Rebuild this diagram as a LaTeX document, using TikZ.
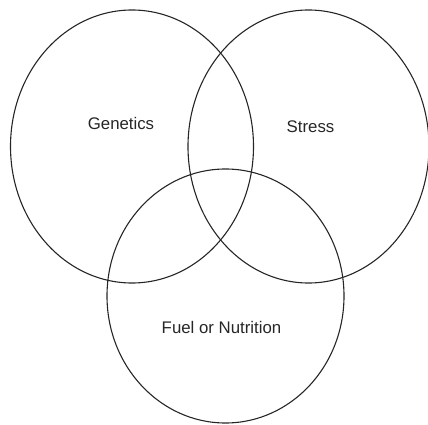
\documentclass[tikz,border=0pt]{standalone}
\usepackage{fontspec}
\setmainfont{Liberation Sans}
\begin{document}
\begin{tikzpicture}[x=1pt,y=-1pt,
  ring/.style={draw=black!85,line width=1.1pt},
  lbl/.style={anchor=base,inner sep=0pt,font=\fontsize{16.8}{19}\selectfont,text=black!85}]
\useasboundingbox (0,0) rectangle (428,425);
\draw[ring] (132,146.5) ellipse [x radius=121.5,y radius=136.5];
\draw[ring] (308.5,146.5) ellipse [x radius=120.5,y radius=136.5];
\draw[ring] (225.5,296) ellipse [x radius=118.5,y radius=127];
\node[lbl] (gen) at (121,129) {Genetics};
\node[lbl] (str) at (310.5,132.5) {Stress};
\node[lbl] (fuel) at (221.5,333.3) {Fuel or Nutrition};
\end{tikzpicture}
\end{document}
